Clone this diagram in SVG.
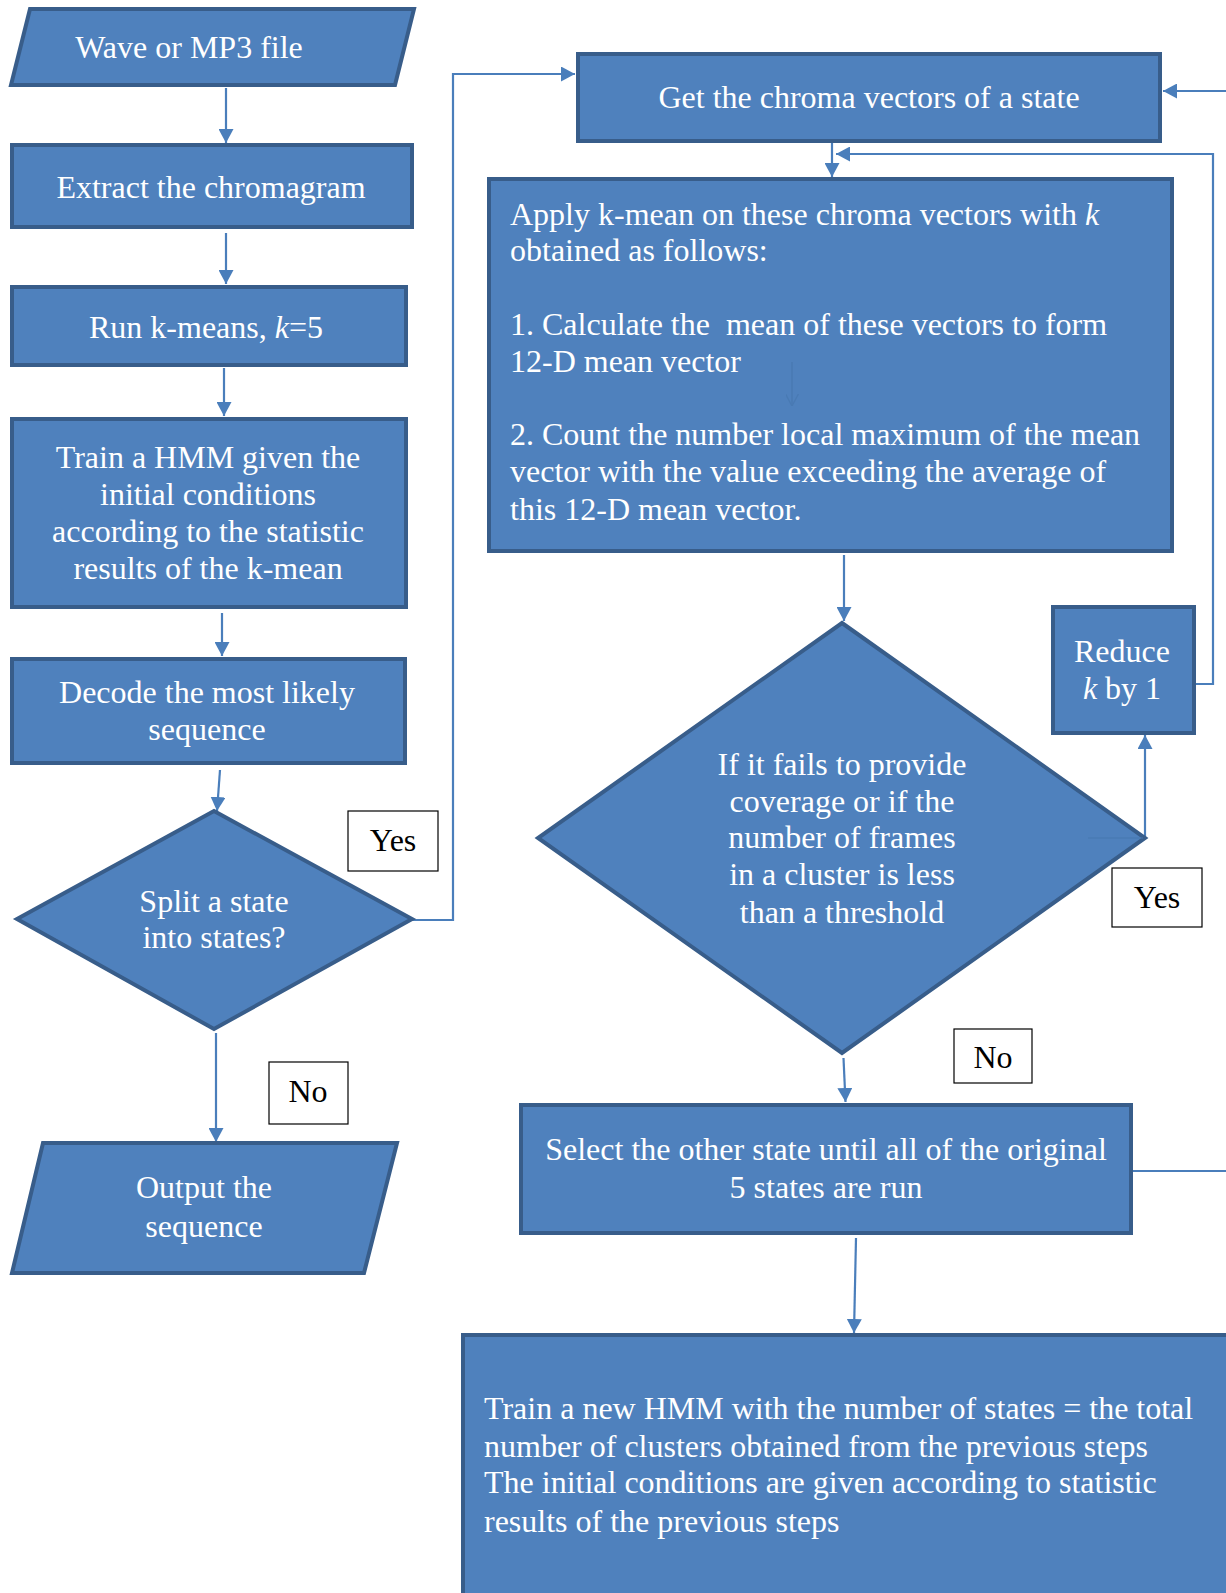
<svg xmlns="http://www.w3.org/2000/svg" width="1226" height="1593" viewBox="0 0 1226 1593">
  <style>
    .shape { fill: #4f81bd; stroke: #385d8a; stroke-width: 4; stroke-linejoin: miter; }
    .label { fill: #ffffff; stroke: #000000; stroke-width: 1.2; }
    .t { font-family: "Liberation Serif", "Times New Roman", serif; font-size: 32px; fill: #ffffff; }
    .c { text-anchor: middle; }
    .b { fill: #000000; }
    .link { fill: none; stroke: #4a7ebb; stroke-width: 2.2; }
    .faint { fill: none; stroke: #4676ae; stroke-width: 1.5; opacity: 0.6; }
  </style>
  <defs>
    <marker id="arrow" viewBox="0 0 14 15" refX="14" refY="7.5" markerWidth="14" markerHeight="15" markerUnits="userSpaceOnUse" orient="auto">
      <path d="M0,0 L14,7.5 L0,15 z" fill="#4a7ebb"/>
    </marker>
    <marker id="arrowFaint" viewBox="0 0 14 15" refX="14" refY="7.5" markerWidth="12" markerHeight="13" markerUnits="userSpaceOnUse" orient="auto">
      <path d="M0,0 L14,7.5 L0,15" fill="none" stroke="#4676ae" stroke-width="1.5"/>
    </marker>
  </defs>

  <rect width="1226" height="1593" fill="#ffffff"/>

  <!-- connectors -->
  <g id="connectors">
    <line class="link" x1="226" y1="88" x2="226" y2="143" marker-end="url(#arrow)"/>
    <line class="link" x1="226" y1="233" x2="226" y2="284" marker-end="url(#arrow)"/>
    <line class="link" x1="224" y1="368" x2="224" y2="416" marker-end="url(#arrow)"/>
    <line class="link" x1="222" y1="613" x2="222" y2="656" marker-end="url(#arrow)"/>
    <line class="link" x1="220" y1="770" x2="217" y2="811" marker-end="url(#arrow)"/>
    <line class="link" x1="216" y1="1033" x2="216" y2="1142" marker-end="url(#arrow)"/>
    <polyline class="link" points="412,920 453,920 453,74 575,74" marker-end="url(#arrow)"/>
    <line class="link" x1="1226" y1="91" x2="1163" y2="91" marker-end="url(#arrow)"/>
    <line class="link" x1="832" y1="143" x2="832" y2="177" marker-end="url(#arrow)"/>
    <polyline class="link" points="1194,684 1213,684 1213,154 836,154" marker-end="url(#arrow)"/>
    <line class="link" x1="844" y1="555" x2="844" y2="621" marker-end="url(#arrow)"/>
    <line class="link" x1="1145" y1="838" x2="1145" y2="735" marker-end="url(#arrow)"/>
    <line class="link" x1="843.5" y1="1058" x2="845.5" y2="1102" marker-end="url(#arrow)"/>
    <line class="link" x1="1133" y1="1171" x2="1226" y2="1171"/>
    <line class="link" x1="856" y1="1238" x2="854" y2="1333" marker-end="url(#arrow)"/>
  </g>

  <!-- input -->
  <g id="wave">
    <polygon class="shape" points="30,9 414,9 395,85 11,85"/>
    <text class="t c" x="189" y="58">Wave or MP3 file</text>
  </g>

  <g id="extract">
    <rect class="shape" x="12" y="145" width="400" height="82"/>
    <text class="t c" x="211" y="198">Extract the chromagram</text>
  </g>

  <g id="kmeans">
    <rect class="shape" x="12" y="287" width="394" height="78"/>
    <text class="t c" x="206" y="338">Run k-means, <tspan font-style="italic">k</tspan>=5</text>
  </g>

  <g id="train">
    <rect class="shape" x="12" y="419" width="394" height="188"/>
    <text class="t c" x="208" y="468">Train a HMM given the</text>
    <text class="t c" x="208" y="505">initial conditions</text>
    <text class="t c" x="208" y="542">according to the statistic</text>
    <text class="t c" x="208" y="579">results of the k-mean</text>
  </g>

  <g id="decode">
    <rect class="shape" x="12" y="659" width="393" height="104"/>
    <text class="t c" x="207" y="703">Decode the most likely</text>
    <text class="t c" x="207" y="740">sequence</text>
  </g>

  <g id="split">
    <polygon class="shape" points="214,811 412,919 214,1029 17,919"/>
    <text class="t c" x="214" y="912">Split a state</text>
    <text class="t c" x="214" y="948">into states?</text>
  </g>

  <g id="yes-left">
    <rect class="label" x="348" y="811" width="90" height="60"/>
    <text class="t c b" x="393" y="851">Yes</text>
  </g>

  <g id="no-left">
    <rect class="label" x="269" y="1062" width="79" height="62"/>
    <text class="t c b" x="308" y="1102">No</text>
  </g>

  <g id="output">
    <polygon class="shape" points="43,1143 397,1143 364,1273 12,1273"/>
    <text class="t c" x="204" y="1198">Output the</text>
    <text class="t c" x="204" y="1237">sequence</text>
  </g>

  <!-- state refinement -->
  <g id="get-chroma">
    <rect class="shape" x="578" y="54" width="582" height="87"/>
    <text class="t c" x="869" y="108">Get the chroma vectors of a state</text>
  </g>

  <g id="apply">
    <rect class="shape" x="489" y="179" width="683" height="372"/>
    <text class="t" x="510" y="225">Apply k-mean on these chroma vectors with <tspan font-style="italic">k</tspan></text>
    <text class="t" x="510" y="261">obtained as follows:</text>
    <text class="t" x="510" y="335" xml:space="preserve">1. Calculate the  mean of these vectors to form</text>
    <text class="t" x="510" y="372">12-D mean vector</text>
    <text class="t" x="510" y="445">2. Count the number local maximum of the mean</text>
    <text class="t" x="510" y="482">vector with the value exceeding the average of</text>
    <text class="t" x="510" y="520">this 12-D mean vector.</text>
    <line class="faint" x1="792" y1="362" x2="792" y2="406" marker-end="url(#arrowFaint)"/>
  </g>

  <g id="coverage">
    <polygon class="shape" points="842,623 1145,838 842,1053 538,838"/>
    <line class="faint" x1="1088" y1="838" x2="1143" y2="838"/>
    <text class="t c" x="842" y="775">If it fails to provide</text>
    <text class="t c" x="842" y="812">coverage or if the</text>
    <text class="t c" x="842" y="848">number of frames</text>
    <text class="t c" x="842" y="885">in a cluster is less</text>
    <text class="t c" x="842" y="923">than a threshold</text>
  </g>

  <g id="reduce">
    <rect class="shape" x="1053" y="607" width="141" height="126"/>
    <text class="t c" x="1122" y="662">Reduce</text>
    <text class="t c" x="1122" y="699"><tspan font-style="italic">k</tspan> by 1</text>
  </g>

  <g id="yes-right">
    <rect class="label" x="1112" y="868" width="90" height="59"/>
    <text class="t c b" x="1157" y="908">Yes</text>
  </g>

  <g id="no-right">
    <rect class="label" x="954" y="1029" width="78" height="54"/>
    <text class="t c b" x="993" y="1068">No</text>
  </g>

  <g id="select">
    <rect class="shape" x="521" y="1105" width="610" height="128"/>
    <text class="t c" x="826" y="1160">Select the other state until all of the original</text>
    <text class="t c" x="826" y="1198">5 states are run</text>
  </g>

  <g id="new-hmm">
    <rect class="shape" x="463" y="1335" width="800" height="300"/>
    <text class="t" x="484" y="1419">Train a new HMM with the number of states = the total</text>
    <text class="t" x="484" y="1457">number of clusters obtained from the previous steps</text>
    <text class="t" x="484" y="1493">The initial conditions are given according to statistic</text>
    <text class="t" x="484" y="1532">results of the previous steps</text>
  </g>
</svg>
